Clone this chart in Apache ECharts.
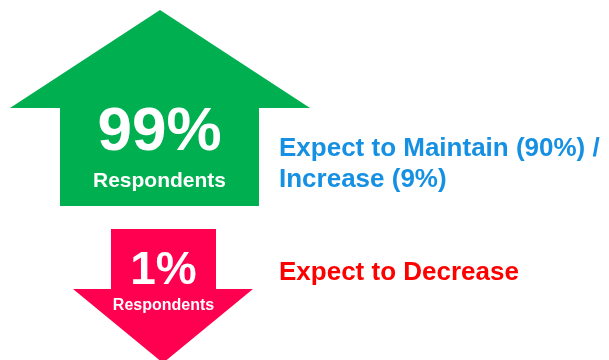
<!DOCTYPE html>
<html><head><meta charset="utf-8">
<script src="https://cdn.jsdelivr.net/npm/echarts@6/dist/echarts.min.js"></script>
<style>html,body{margin:0;padding:0;background:#fff}#c{width:609px;height:360px}</style>
</head><body><div id="c"></div>
<script>
// Data
const directions = ['up', 'down'];
const shares = [99, 1];
const shareLabels = ['99%', '1%'];
const subLabels = ['Respondents', 'Respondents'];
const descriptions = [['Expect to Maintain (90%) /', 'Increase (9%)'], ['Expect to Decrease']];

// Layout (in canvas units of the hidden grid); *Y values are text baselines
const layout = {
  up: {tipX: 160, tipY: 10, wingY: 108, wingL: 10, wingR: 310, shaftL: 60, shaftR: 259, end: 206,
       color: '#00B050', big: 62, bigY: 150, small: 21, smallY: 187, descY: [156, 187], descColor: '#1590E2'},
  down: {tipX: 163, tipY: 363, wingY: 289, wingL: 73, wingR: 253, shaftL: 111, shaftR: 216, end: 229,
       color: '#FF0050', big: 46, bigY: 284, small: 16, smallY: 310, descY: [280], descColor: '#FF0000'}
};
const descX = 279;
const FONT = '"Liberation Sans", Arial, sans-serif';

function txt(pos, text, size, fill, align) {
  // place with baseline at pos[1]: middle of em box sits ~0.28em above baseline
  return {type: 'text', x: pos[0], y: pos[1] - 0.28 * size, style: {text: text, fill: fill,
    font: 'bold ' + size + 'px ' + FONT, align: align, verticalAlign: 'middle'}};
}

const chart = echarts.init(document.getElementById('c'), null, {renderer: 'canvas'});
chart.setOption({
  animation: false,
  grid: {left: 0, right: 0, top: 0, bottom: 0},
  xAxis: {type: 'value', min: 0, max: 609, show: false},
  yAxis: {type: 'value', min: 0, max: 360, inverse: true, show: false},
  series: [{
    type: 'custom',
    clip: false,
    data: directions.map((d, i) => [i, shares[i]]),
    renderItem: function (params, api) {
      const i = api.value(0);
      const L = layout[directions[i]];
      const c = (x, y) => api.coord([x, y]);
      const pts = [
        c(L.tipX, L.tipY), c(L.wingR, L.wingY), c(L.shaftR, L.wingY), c(L.shaftR, L.end),
        c(L.shaftL, L.end), c(L.shaftL, L.wingY), c(L.wingL, L.wingY)
      ];
      const cx = (L.shaftL + L.shaftR) / 2;
      const children = [
        {type: 'polygon', shape: {points: pts}, style: {fill: L.color}},
        txt(c(cx, L.bigY), shareLabels[i], L.big, '#fff', 'center'),
        txt(c(cx, L.smallY), subLabels[i], L.small, '#fff', 'center')
      ];
      descriptions[i].forEach((line, k) => {
        children.push(txt(c(descX, L.descY[k]), line, 26, L.descColor, 'left'));
      });
      return {type: 'group', children: children};
    }
  }]
});
</script></body></html>
